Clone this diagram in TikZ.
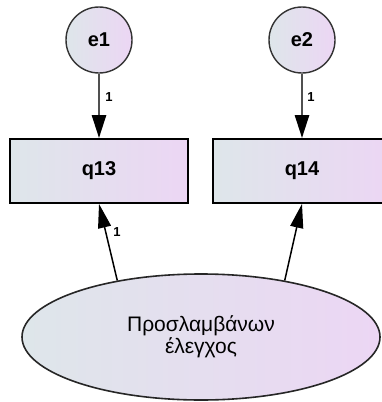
\documentclass[tikz,border=0pt]{standalone}
\usepackage{fontspec}
\setmainfont{Liberation Sans}
\usepackage{tikz}
\usetikzlibrary{arrows.meta, positioning, shapes.geometric}

\definecolor{shadeL}{RGB}{222,230,234}
\definecolor{shadeR}{RGB}{236,214,244}
\definecolor{edgegray}{RGB}{80,80,80}

\begin{document}
\begin{tikzpicture}[
    x=1pt, y=-1pt,
    errvar/.style={circle, draw=black!80, line width=1.4pt, minimum size=66pt,
                   inner sep=0pt, left color=shadeL, right color=shadeR,
                   font=\fontsize{20}{22}\selectfont\bfseries},
    obsvar/.style={rectangle, draw=black, line width=1.8pt, minimum width=178pt,
                   minimum height=64pt, left color=shadeL, right color=shadeR,
                   font=\fontsize{20}{22}\selectfont\bfseries},
    latvar/.style={ellipse, draw=black!85, line width=1.6pt, minimum width=358pt,
                   minimum height=126pt, inner sep=0pt, left color=shadeL,
                   right color=shadeR, align=center,
                   font=\fontsize{21}{22}\selectfont},
    errpath/.style={-{Triangle[length=23pt, width=14pt, black]}, line width=2.6pt, draw=edgegray},
    loadpath/.style={-{Triangle[length=24pt, width=13pt]}, line width=1.5pt, draw=black},
    weight/.style={font=\fontsize{13}{13}\selectfont\bfseries, inner sep=0pt},
]
    \clip (0,0) rectangle (382,402);

    \node[errvar] (e1) at (99,40) {e1};
    \node[errvar] (e2) at (302,40) {e2};
    \node[obsvar] (q13) at (99,171) {q13};
    \node[obsvar] (q14) at (302,171) {q14};
    \node[latvar] (lat) at (201,337) {Προσλαμβάνων\\έλεγχος};

    \draw[errpath] (e1) -- (q13);
    \draw[errpath] (e2) -- (q14);
    \draw[loadpath] (lat.146) -- (q13.south);
    \draw[loadpath] (lat.34) -- (q14.south);

    % Weights
    \node[weight] (w1) at (109,97) {1};
    \node[weight] (w2) at (311,97) {1};
    \node[weight] (w3) at (117,232) {1};
\end{tikzpicture}
\end{document}
